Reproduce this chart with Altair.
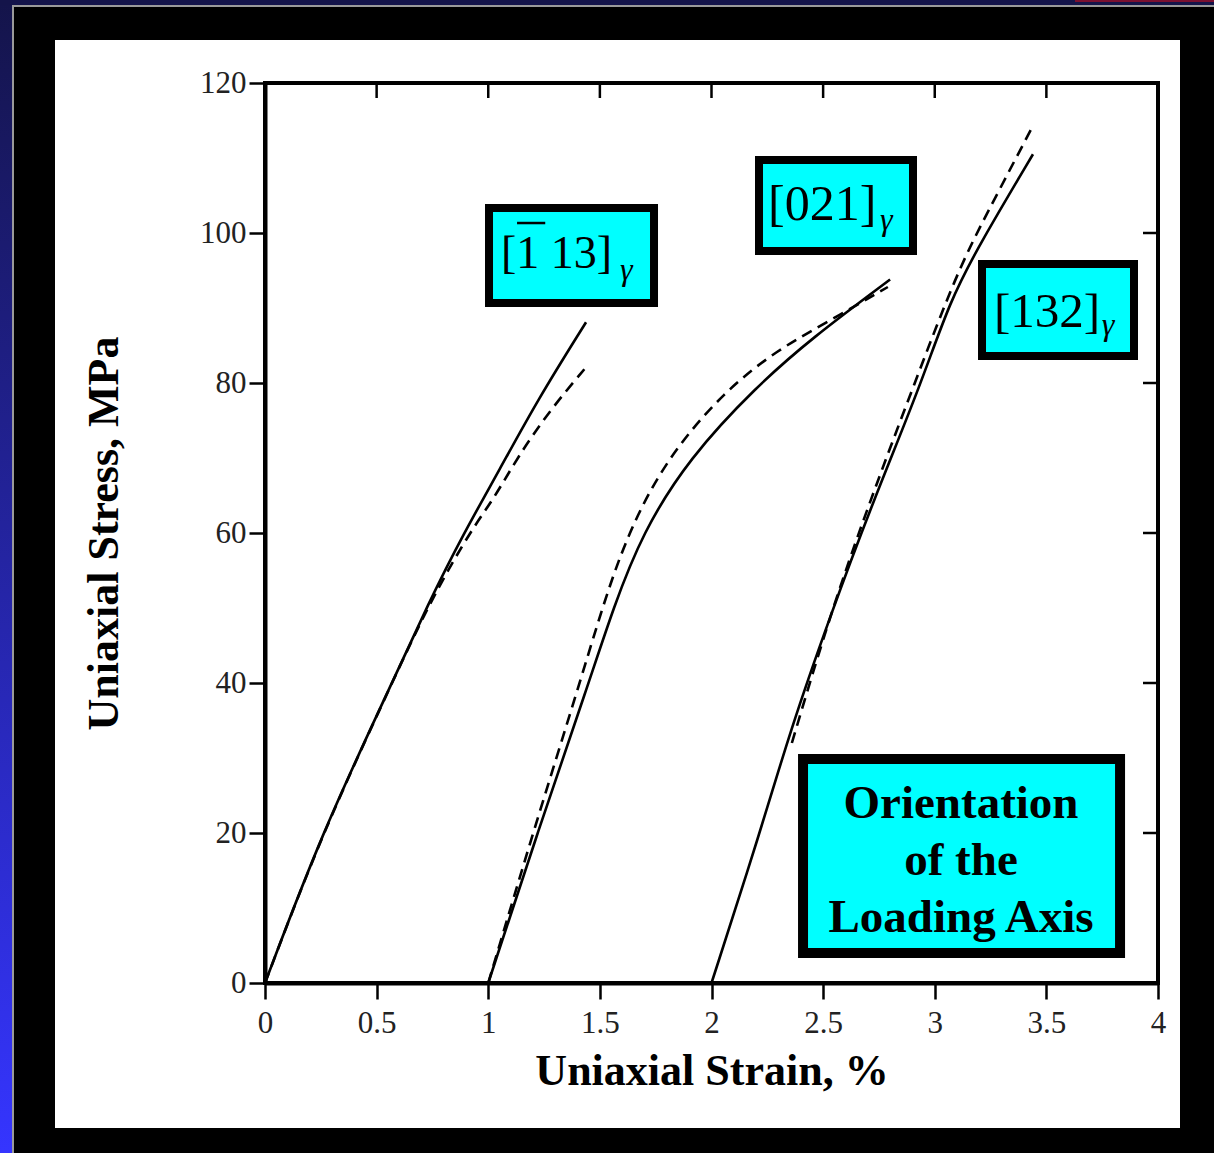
import altair as alt
import pandas as pd

# ---------------- data ----------------
s1_strain = [0.0, 0.255, 0.533, 0.739, 0.891, 1.05, 1.22, 1.438]
s1_stress = [0.0, 20.0, 37.7, 51.1, 60.0, 68.4, 77.7, 88.1]
d1_strain = [0.0, 0.25, 0.53, 0.74, 0.932, 1.022, 1.133, 1.277, 1.438]
d1_stress = [0.0, 19.5, 37.5, 51.0, 60.8, 64.4, 70.2, 76.4, 82.1]

s2_strain = [1.0, 1.22, 1.45, 1.56, 1.69, 1.90, 2.20, 2.45, 2.80]
s2_stress = [0.0, 20.0, 40.0, 50.0, 60.0, 70.0, 79.5, 86.0, 93.8]
d2_strain = [1.0, 1.03, 1.20, 1.41, 1.51, 1.625, 1.80, 2.06, 2.30, 2.50, 2.79]
d2_stress = [0.0, 3.0, 20.0, 40.0, 50.0, 60.0, 70.0, 79.0, 84.5, 87.8, 92.8]

s3_strain = [2.0, 2.217, 2.352, 2.531, 2.725, 2.934, 3.068, 3.203, 3.44]
s3_stress = [0.0, 20.0, 33.6, 48.9, 64.3, 79.5, 91.0, 98.6, 110.5]
d3_strain = [2.36, 2.53, 2.71, 2.904, 3.10, 3.23, 3.44]
d3_stress = [32.0, 49.0, 64.3, 79.5, 94.8, 102.4, 114.3]

x_ticks = [0, 0.5, 1, 1.5, 2, 2.5, 3, 3.5, 4]
y_ticks = [0, 20, 40, 60, 80, 100, 120]
top_ticks = [0.5, 1, 1.5, 2, 2.5, 3, 3.5]
right_ticks = [20, 40, 60, 80, 100]

# annotation boxes (data units)
box_x = [1.0034, 2.2128, 3.2117, 2.41]
box_x2 = [1.7425, 2.9026, 3.8925, 3.83]
box_y = [103.33, 109.73, 95.87, 29.87]
box_y2 = [90.67, 97.6, 83.6, 4.0]
box_w = [8, 8, 8, 10]

orient_text = ["[1 13]", "[021]", "[132]"]
orient_x = [1.057, 2.253, 3.265]
orient_y = [95.33, 101.73, 87.47]
orient_size = [46, 50, 49]

gamma_x = [1.59, 2.755, 3.748]
gamma_y = [93.73, 100.4, 86.4]

title_lines = ["Orientation", "of the", "Loading Axis"]
title_line_x = [3.1176, 3.1176, 3.1176]
title_line_y = [22.0, 14.4, 6.8]

bar_x = [1.129]
bar_x2 = [1.2553]
bar_y = [101.33]

# ---------------- layout ----------------
W, H = 893, 900
PAD_L, PAD_T, PAD_R, PAD_B = 265, 83, 56, 170
FULL_W, FULL_H = 1214, 1153

xs = alt.Scale(domain=[0, 4], nice=False)
ys = alt.Scale(domain=[0, 120], nice=False)

one = pd.DataFrame({"a": [0]})

def deco_rect(x, x2, y, y2, color):
    # coordinates given in page pixels
    return alt.Chart(one).mark_rect(color=color).encode(
        x=alt.value(x - PAD_L), x2=alt.value(x2 - PAD_L),
        y=alt.value(y - PAD_T), y2=alt.value(y2 - PAD_T))

# black surround (white panel 55..1180 x 40..1128)
band_top = deco_rect(0, FULL_W, 0, 40, "black")
band_bottom = deco_rect(0, FULL_W, 1128, FULL_H, "black")
band_left = deco_rect(0, 55, 0, FULL_H, "black")
band_right = deco_rect(1180, FULL_W, 0, FULL_H, "black")

left_strip = alt.Chart(one).mark_rect(
    color=alt.Gradient(
        gradient="linear",
        stops=[alt.GradientStop(color="#14144a", offset=0),
               alt.GradientStop(color="#3535ff", offset=1)],
        x1=0, x2=0, y1=0, y2=1)
).encode(x=alt.value(-PAD_L), x2=alt.value(-PAD_L + 12),
         y=alt.value(-PAD_T), y2=alt.value(H + PAD_B))
top_strip = deco_rect(0, FULL_W, 0, 5, "#14144a")
top_red = deco_rect(1075, FULL_W, 0, 2, "#7a1030")
left_line = deco_rect(12, 14, 5, FULL_H, "#9a9a9a")
top_line = deco_rect(12, FULL_W, 5, 7, "#9a9a9a")

frame = alt.Chart(one).mark_rect(fill=None, stroke="black", strokeWidth=4).encode(
    x=alt.value(0), x2=alt.value(W), y=alt.value(0), y2=alt.value(H))

x_axis = alt.Axis(values=x_ticks, format="~g", title="Uniaxial Strain, %",
                  titleY=101, titleBaseline="alphabetic", zindex=2,
                  labelFlush=False, labelOverlap=False)
y_axis = alt.Axis(values=y_ticks, format="d", title="Uniaxial Stress, MPa",
                  titleX=-148, titleY=H / 2, titleBaseline="alphabetic", zindex=2,
                  labelFlush=False, labelOverlap=False)

def curve(xv, yv, dashed=False):
    df = pd.DataFrame({"strain": xv, "stress": yv})
    kw = dict(color="black", strokeWidth=2.6, interpolate="basis")
    if dashed:
        kw["strokeDash"] = [11, 7]
    return alt.Chart(df).mark_line(**kw).encode(
        x=alt.X("strain:Q", scale=xs, axis=x_axis),
        y=alt.Y("stress:Q", scale=ys, axis=y_axis),
        order="strain:Q",
    )

lines = [curve(s1_strain, s1_stress), curve(d1_strain, d1_stress, True),
         curve(s2_strain, s2_stress), curve(d2_strain, d2_stress, True),
         curve(s3_strain, s3_stress), curve(d3_strain, d3_stress, True)]

top_tk = alt.Chart(pd.DataFrame({"t": top_ticks})).mark_rule(
    color="black", strokeWidth=2.5).encode(
    x=alt.X("t:Q", scale=xs, axis=x_axis), y=alt.value(0), y2=alt.value(15))
right_tk = alt.Chart(pd.DataFrame({"t": right_ticks})).mark_rule(
    color="black", strokeWidth=2.5).encode(
    y=alt.Y("t:Q", scale=ys, axis=y_axis), x=alt.value(W - 15), x2=alt.value(W))

boxes = alt.Chart(pd.DataFrame({"x": box_x, "x2": box_x2, "y": box_y,
                                "y2": box_y2, "w": box_w})).mark_rect(
    fill="#00ffff", stroke="black").encode(
    x=alt.X("x:Q", scale=xs, axis=x_axis), x2="x2:Q",
    y=alt.Y("y:Q", scale=ys, axis=y_axis), y2="y2:Q",
    strokeWidth=alt.StrokeWidth("w:Q", scale=None))

orient_lbl = alt.Chart(pd.DataFrame({"x": orient_x, "y": orient_y,
                                     "t": orient_text, "s": orient_size})).mark_text(
    font="Liberation Serif", align="left", baseline="alphabetic", color="black").encode(
    x=alt.X("x:Q", scale=xs, axis=x_axis), y=alt.Y("y:Q", scale=ys, axis=y_axis),
    text="t:N", size=alt.Size("s:Q", scale=None))

gamma_lbl = alt.Chart(pd.DataFrame({"x": gamma_x, "y": gamma_y,
                                    "t": ["γ"] * 3})).mark_text(
    font="Liberation Serif", fontStyle="italic", fontSize=32, align="left",
    baseline="alphabetic", color="black").encode(
    x=alt.X("x:Q", scale=xs, axis=x_axis), y=alt.Y("y:Q", scale=ys, axis=y_axis),
    text="t:N")

bar = alt.Chart(pd.DataFrame({"x": bar_x, "x2": bar_x2, "y": bar_y})).mark_rule(
    color="black", strokeWidth=2.5).encode(
    x=alt.X("x:Q", scale=xs, axis=x_axis), x2="x2:Q",
    y=alt.Y("y:Q", scale=ys, axis=y_axis))

title_lbl = alt.Chart(pd.DataFrame({"x": title_line_x, "y": title_line_y,
                                    "t": title_lines})).mark_text(
    font="Liberation Serif", fontWeight="bold", fontSize=47, align="center",
    baseline="alphabetic", color="black").encode(
    x=alt.X("x:Q", scale=xs, axis=x_axis), y=alt.Y("y:Q", scale=ys, axis=y_axis),
    text="t:N")

chart = alt.layer(
    *lines, top_tk, right_tk, frame, boxes, orient_lbl, gamma_lbl, bar, title_lbl,
    band_top, band_bottom, band_left, band_right,
    left_strip, top_strip, top_red, left_line, top_line,
).properties(
    width=W, height=H,
    background="white",
    padding={"left": PAD_L, "top": PAD_T, "right": PAD_R, "bottom": PAD_B},
    autosize=alt.AutoSizeParams(type="none"),
).configure_view(
    stroke=None
).configure_axis(
    grid=False,
    domainColor="black", domainWidth=4,
    tickColor="black", tickWidth=2.5, tickSize=16,
    labelFont="Liberation Serif", labelFontSize=31, labelColor="#222222",
    titleFont="Liberation Serif", titleFontWeight="bold", titleFontSize=44,
    titleColor="black",
).configure_axisX(labelPadding=9).configure_axisY(labelPadding=3)

chart.save("out.html", embed_options={"renderer": "svg", "actions": False})
